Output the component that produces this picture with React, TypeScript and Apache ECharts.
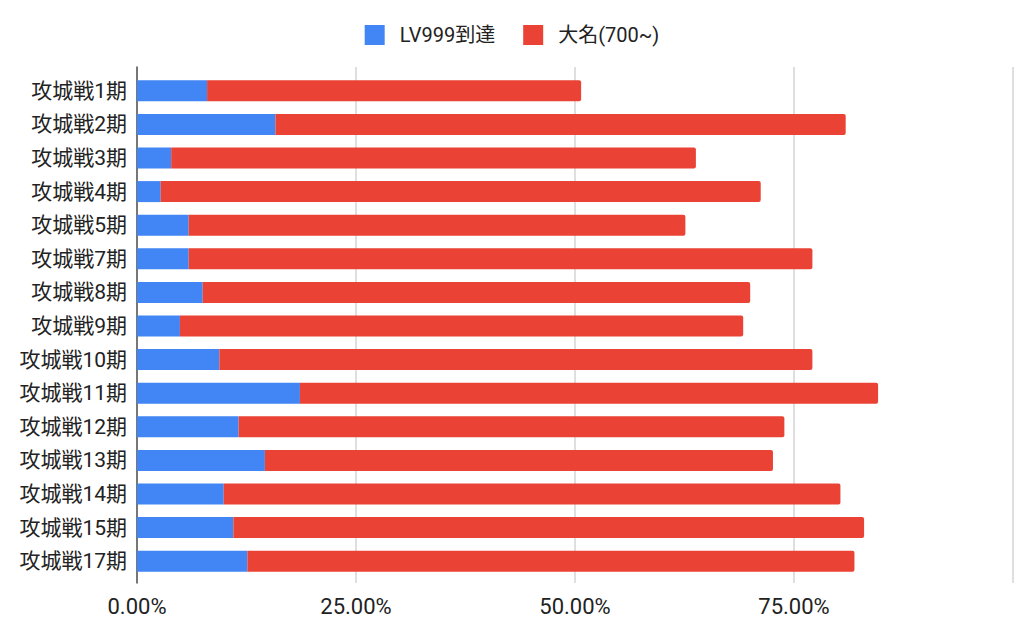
import React, { useEffect, useRef } from 'react';
import * as echarts from 'echarts';

// カテゴリ（上から順）
const categories = [
  '攻城戦1期', '攻城戦2期', '攻城戦3期', '攻城戦4期', '攻城戦5期',
  '攻城戦7期', '攻城戦8期', '攻城戦9期', '攻城戦10期', '攻城戦11期',
  '攻城戦12期', '攻城戦13期', '攻城戦14期', '攻城戦15期', '攻城戦17期',
];

// LV999到達 (%)
const lv999 = [8.0, 15.8, 3.9, 2.7, 5.9, 5.9, 7.5, 4.9, 9.4, 18.6, 11.6, 14.6, 9.9, 11.0, 12.6];

// 大名(700~) (%)  ※積み上げ分
const daimyo = [42.7, 65.1, 59.9, 68.5, 56.7, 71.2, 62.5, 64.3, 67.7, 66.0, 62.3, 58.0, 70.4, 72.0, 69.3];

const seriesNames = ['LV999到達', '大名(700~)'];
const xTicks = [0, 25, 50, 75, 100];

const FONT = "Roboto, 'Noto Sans CJK JP', sans-serif";

const App: React.FC = () => {
  const chartRef = useRef<HTMLDivElement | null>(null);

  useEffect(() => {
    document.body.style.margin = '0';
    if (!chartRef.current) return;
    const myChart = echarts.init(chartRef.current, null, { renderer: 'svg' });

    const option: echarts.EChartsOption = {
      animation: false,
      textStyle: { fontFamily: FONT },
      color: ['#4285F4', '#EA4335'],
      legend: {
        data: seriesNames,
        top: 20,
        left: 'center',
        icon: 'rect',
        itemWidth: 20,
        itemHeight: 20,
        itemGap: 28,
        textStyle: { fontSize: 20, color: '#222', padding: [0, 0, 0, 10], fontFamily: FONT },
      },
      grid: [
        // 軸線・グリッド線用
        { left: 137, right: 11, top: 67, bottom: 48 },
        // 棒グラフ用
        { left: 137, right: 11, top: 74, bottom: 53 },
      ],
      xAxis: [
        {
          type: 'value',
          gridIndex: 0,
          min: xTicks[0],
          max: xTicks[xTicks.length - 1],
          interval: 25,
          axisLine: { show: false },
          axisTick: { show: false },
          splitLine: { show: true, lineStyle: { color: '#d4d4d4', width: 1.5 } },
          axisLabel: {
            fontSize: 22,
            color: '#222',
            margin: 12,
            showMaxLabel: false,
            formatter: (v: number) => `${v.toFixed(2)}%`,
          },
        },
        {
          type: 'value',
          gridIndex: 1,
          min: 0,
          max: 100,
          show: false,
        },
      ],
      yAxis: [
        {
          type: 'value',
          gridIndex: 0,
          min: 0,
          max: 1,
          axisLine: { show: true, onZero: false, lineStyle: { color: '#555', width: 1.5 } },
          axisTick: { show: false },
          axisLabel: { show: false },
          splitLine: { show: false },
        },
        {
          type: 'category',
          gridIndex: 1,
          inverse: true,
          data: categories,
          axisLine: { show: false },
          axisTick: { show: false },
          axisLabel: { fontSize: 21, color: '#222', margin: 10 },
        },
      ],
      series: [
        {
          name: seriesNames[0],
          type: 'bar',
          stack: 'total',
          xAxisIndex: 1,
          yAxisIndex: 1,
          barWidth: 21,
          data: lv999,
          itemStyle: { color: '#4285F4' },
        },
        {
          name: seriesNames[1],
          type: 'bar',
          stack: 'total',
          xAxisIndex: 1,
          yAxisIndex: 1,
          barWidth: 21,
          data: daimyo,
          itemStyle: { color: '#EA4335', borderRadius: [0, 2, 2, 0] },
        },
      ],
    };

    myChart.setOption(option);

    return () => {
      myChart.dispose();
    };
  }, []);

  return <div ref={chartRef} style={{ width: 1024, height: 631 }}></div>;
};

export default App;
